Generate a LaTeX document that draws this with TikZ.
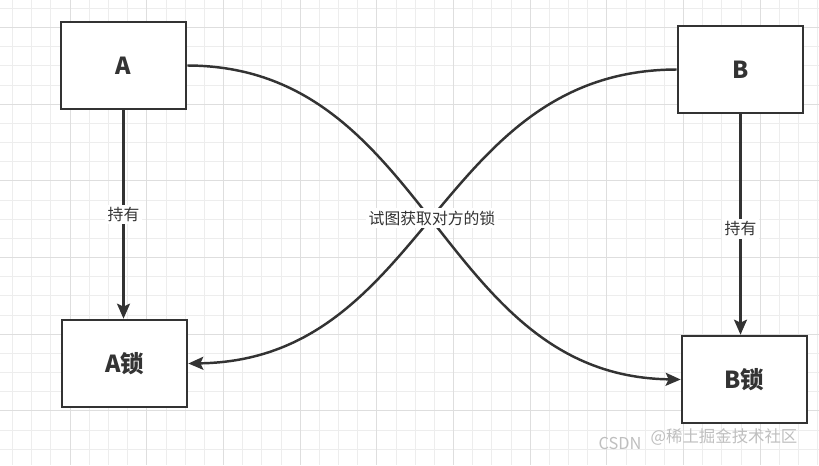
\documentclass[tikz,border=0pt]{standalone}
\usepackage{fontspec}
\setmainfont{Noto Sans CJK SC}
\usetikzlibrary{arrows.meta}
\definecolor{ink}{HTML}{333333}
\definecolor{minorgrid}{HTML}{EDEDED}
\definecolor{majorgrid}{HTML}{DEDEDE}
\tikzset{
  box/.style={draw=ink,line width=2.3pt,fill=white,minimum width=125*0.03cm,minimum height=87*0.03cm,
    font=\fontsize{20}{22}\selectfont\bfseries,text=ink},
  link/.style={draw=ink,line width=2.1pt,-{Stealth[length=15*0.03cm,width=13*0.03cm,inset=3*0.03cm]}},
  tag/.style={fill=white,font=\fontsize{13.5}{16}\selectfont,text=ink,inner sep=2pt},
  wmark/.style={text=black!25,font=\fontsize{14}{16}\selectfont}
}
\begin{document}
\begin{tikzpicture}[x=0.03cm,y=-0.03cm]
\useasboundingbox (0,0) rectangle (819,465);
\fill[white] (0,0) rectangle (819,465);
% grid
\foreach \i in {0,...,43} {
  \draw[minorgrid,line width=0.6pt] (12.5+\i*19.17,0) -- (12.5+\i*19.17,465);
}
\foreach \i in {0,...,24} {
  \draw[minorgrid,line width=0.6pt] (0,8.2+\i*19.17) -- (819,8.2+\i*19.17);
}
\foreach \i in {0,...,10} {
  \draw[majorgrid,line width=0.7pt] (70+\i*76.68,0) -- (70+\i*76.68,465);
}
\foreach \i in {-1,...,5} {
  \draw[majorgrid,line width=0.7pt] (0,104+\i*76.68) -- (819,104+\i*76.68);
}
% boxes
\node[box] (a) at (123.5,65.5) {A};
\node[box] (b) at (740.5,69.5) {B};
\node[box] (alock) at (124.5,363.5) {A锁};
\node[box] (block) at (744.5,379.5) {B锁};
% holds
\draw[link] (a) -- (a |- alock.north) node[tag,pos=0.5] {持有};
\draw[link] (b) -- (b |- block.north) node[tag,pos=0.52] {持有};
% crossing requests
\draw[link] (a.east) .. controls (430,66) and (438,376) .. (block.west);
\draw[link] (b.west) .. controls (436,70) and (428,360) .. (alock.east);
\node[tag] (try) at (432,218) {试图获取对方的锁};
% watermark
\node[wmark] (wm1) at (724,437) {@稀土掘金技术社区};
\node[wmark] (wm2) at (620,443) {CSDN};
\end{tikzpicture}
\end{document}
